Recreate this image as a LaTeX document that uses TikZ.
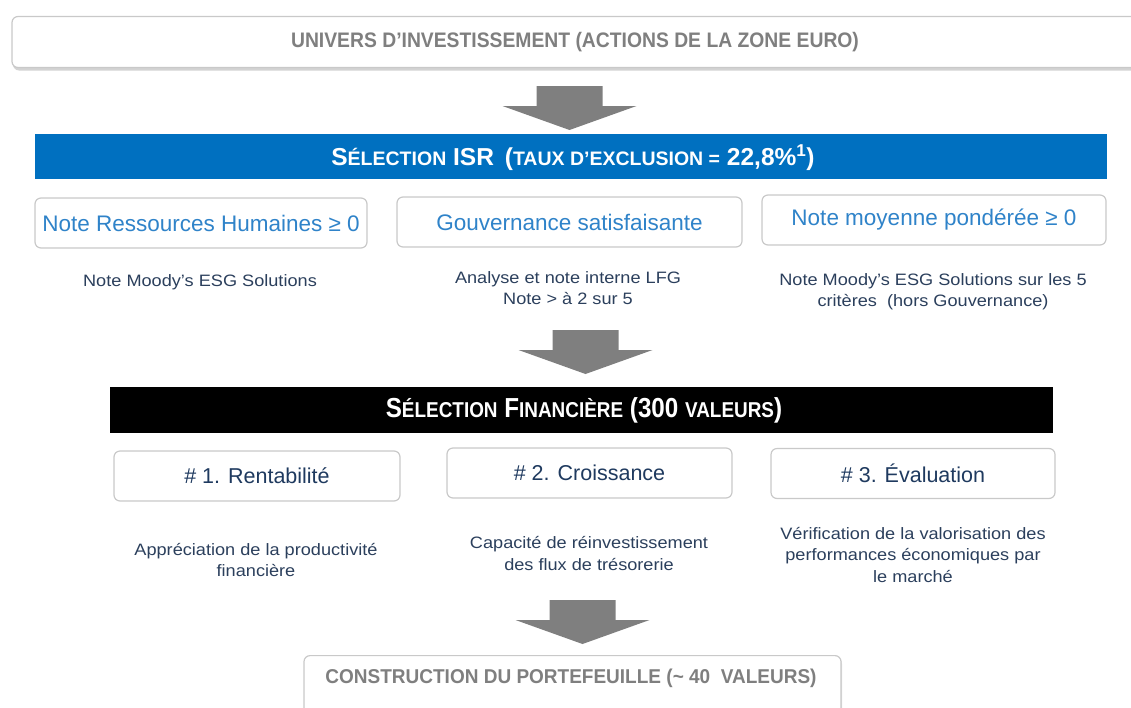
\documentclass[tikz,border=0pt]{standalone}
\usepackage{fontspec}
\setmainfont{Liberation Sans}
\newfontfamily\condfont[FakeStretch=0.88]{Liberation Sans}
\newfontfamily\headfont[FakeStretch=0.92]{Liberation Sans}
\newfontfamily\semicondfont[FakeStretch=0.95]{Liberation Sans}
\newfontfamily\descfont[FakeStretch=1.1]{Liberation Sans}
\usepackage{xcolor}
\usetikzlibrary{positioning,calc,shadows}

\definecolor{isrblue}{HTML}{0070C0}
\definecolor{critblue}{HTML}{2F83C9}
\definecolor{descblue}{HTML}{2B3F5C}
\definecolor{finblue}{HTML}{1F3A5F}
\definecolor{headgray}{HTML}{7F7F7F}
\definecolor{boxline}{HTML}{C9C9C9}

% small caps made by hand
\newcommand{\smisr}[1]{{\fontsize{19.5}{19.5}\selectfont #1}}
\newcommand{\smfin}[1]{{\fontsize{21.5}{21.5}\selectfont #1}}

\tikzset{
  critbox/.style={draw=boxline, line width=1.2pt, rounded corners=6pt, fill=white,
    minimum height=50pt, inner sep=0pt},
  bar/.style={minimum height=46pt, inner sep=0pt, text=white},
  desc/.style={align=center, text=descblue, font=\descfont\fontsize{16.5}{21.5}\selectfont},
  bigarrow/.pic={\fill[headgray] (-33,0) -- (33,0) -- (33,20) -- (67,20) -- (0,44)
    -- (-67,20) -- (-33,20) -- cycle;}
}

\begin{document}
\begin{tikzpicture}[x=1pt,y=-1pt]
    \useasboundingbox (0,0) rectangle (1131,707);

    % Universe
    \node[critbox, minimum width=1128pt, minimum height=51pt,
      drop shadow={shadow xshift=1pt, shadow yshift=-3pt, opacity=0.35}]
      (univ) at (576,42) {};
    \node[text=headgray, font=\headfont\bfseries\fontsize{21}{21}\selectfont]
      (univtxt) at (575,42) {UNIVERS D’INVESTISSEMENT (ACTIONS DE LA ZONE EURO)};
    \pic at (569.5,86) {bigarrow};

    % ISR selection
    \node[bar, fill=isrblue, minimum width=1072pt, minimum height=45pt] (isr) at (571,156.5) {};
    \node[text=white, font=\bfseries\fontsize{24.5}{24.5}\selectfont] (isrtxt) at (573,158)
      {S\smisr{ÉLECTION} ISR\, (\smisr{TAUX D’EXCLUSION =} 22,8\%\textsuperscript{1})};

    \node[critbox, minimum width=332pt, text=critblue, font=\fontsize{22.5}{22.5}\selectfont]
      (rh) at (201,223) {Note Ressources Humaines ≥ 0};
    \node[critbox, minimum width=345pt, text=critblue, font=\fontsize{22.5}{22.5}\selectfont]
      (gouv) at (569.5,222) {Gouvernance satisfaisante};
    \node[critbox, minimum width=344pt, text=critblue, font=\fontsize{22.5}{22.5}\selectfont]
      (moy) at (934,220) {Note moyenne pondérée ≥ 0};

    \node[desc] (rhdesc) at (200,282) {Note Moody’s ESG Solutions};
    \node[desc] (gouvdesc) at (568,288) {Analyse et note interne LFG\\Note > à 2 sur 5};
    \node[desc] (moydesc) at (933,291.5) {Note Moody’s ESG Solutions sur les 5\\critères\ \ (hors Gouvernance)};
    \pic at (585.5,330) {bigarrow};

    % Financial selection
    \node[bar, fill=black, minimum width=943pt] (fin) at (581.5,410) {};
    \node[text=white, font=\condfont\bfseries\fontsize{27.5}{27.5}\selectfont] (fintxt) at (584,410)
      {S\smfin{ÉLECTION} F\smfin{INANCIÈRE} (300 \smfin{VALEURS})};

    \node[critbox, minimum width=286pt, text=finblue, font=\fontsize{21.5}{21.5}\selectfont]
      (rent) at (257,476) {\# 1. Rentabilité};
    \node[critbox, minimum width=285pt, text=finblue, font=\fontsize{21.5}{21.5}\selectfont]
      (crois) at (589.5,473) {\# 2. Croissance};
    \node[critbox, minimum width=284pt, text=finblue, font=\fontsize{21.5}{21.5}\selectfont]
      (eval) at (913,473.5) {\# 3. Évaluation};

    \node[desc] (rentdesc) at (256,560) {Appréciation de la productivité\\financière};
    \node[desc] (croisdesc) at (589,553.5) {Capacité de réinvestissement\\des flux de trésorerie};
    \node[desc] (evaldesc) at (913,554.5) {Vérification de la valorisation des\\performances économiques par\\le marché};
    \pic at (582.5,600) {bigarrow};

    % Portfolio
    \node[critbox, minimum width=537pt, minimum height=70pt, anchor=north,
      drop shadow={shadow xshift=1pt, shadow yshift=-2pt, opacity=0.25}]
      (ptf) at (572.5,655) {};
    \node[text=headgray, font=\semicondfont\bfseries\fontsize{20}{20}\selectfont]
      (ptftxt) at (571,678) {CONSTRUCTION DU PORTEFEUILLE (\textasciitilde\ 40\ \ VALEURS)};
\end{tikzpicture}
\end{document}
